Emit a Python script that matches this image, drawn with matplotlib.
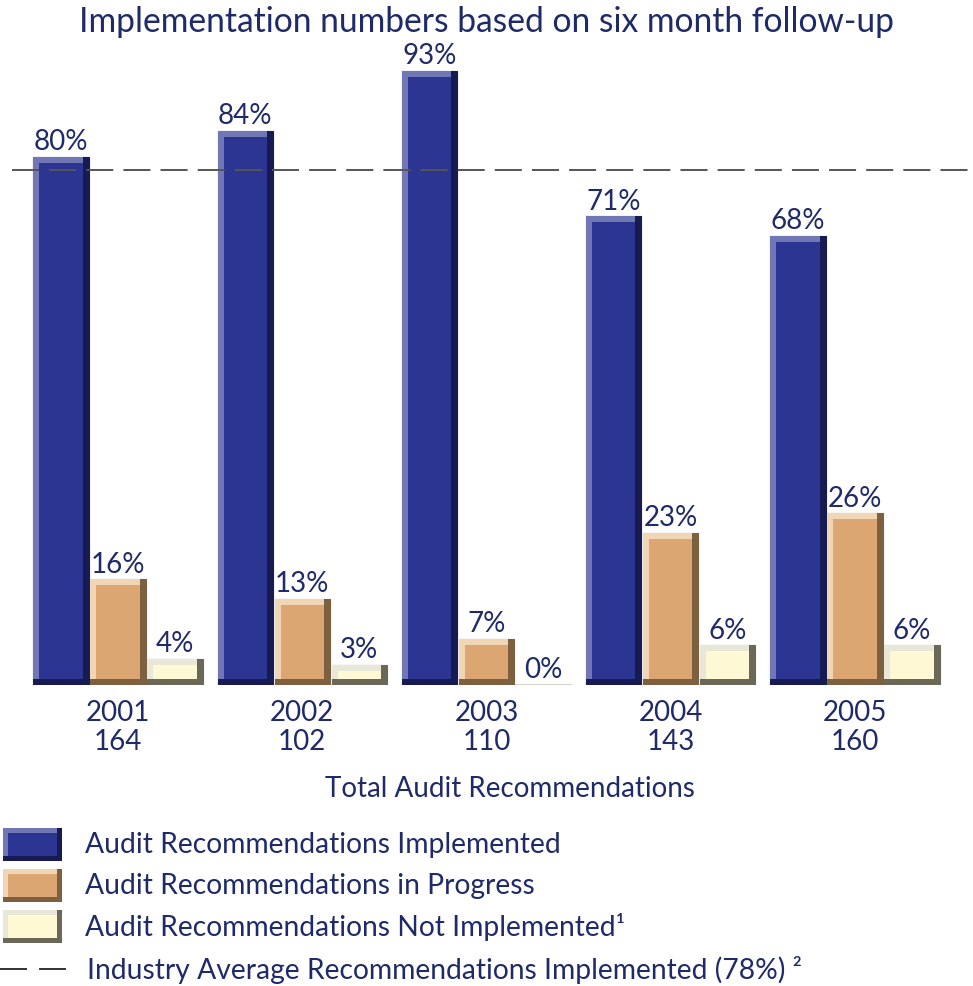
import matplotlib
matplotlib.use("Agg")
import matplotlib.pyplot as plt
from matplotlib.patches import Rectangle
from matplotlib.lines import Line2D
import numpy as np

plt.rcParams['font.family'] = ['Lato', 'DejaVu Sans']

years = ["2001", "2002", "2003", "2004", "2005"]
totals = [164, 102, 110, 143, 160]
implemented = [80, 84, 93, 71, 68]
in_progress = [16, 13, 7, 23, 26]
not_implemented = [4, 3, 0, 6, 6]
industry_avg = 78

series_names = [
    "Audit Recommendations Implemented",
    "Audit Recommendations in Progress",
    "Audit Recommendations Not Implemented\u00b9",
]
avg_name = "Industry Average Recommendations Implemented (78%)"

TEXT = "#1f2a68"
# (face, highlight, shadow)
palette = [
    ("#2c3592", "#7177b4", "#161b52"),
    ("#dba672", "#f1d6b6", "#7d6040"),
    ("#fff8d4", "#e9e7d8", "#6b6858"),
]

W, H, DPI = 973, 987, 100
fig = plt.figure(figsize=(W / DPI, H / DPI), dpi=DPI)
base_px, top_px = 686, 26
ax = fig.add_axes([0, (H - base_px) / H, 1, (base_px - top_px) / H])
ax.set_xlim(-0.6404, 4.6404)
ax.set_ylim(0, 100)
for s in ax.spines.values():
    s.set_visible(False)
ax.set_yticks([])

x = np.arange(len(years))
step = 0.309
width = 0.300
dx = 6 / 184.25   # bevel thickness in x units
dy = 6 / 6.6      # bevel thickness in % units


def bevel_bars(xs, vals, colors):
    face, hi, sh = colors
    vals = np.asarray(vals, dtype=float)
    ax.bar(xs, vals, width, color=sh, edgecolor=sh, linewidth=0.8, zorder=2)
    ax.bar(xs - dx / 2, np.clip(vals - dy, 0, None), width - dx, bottom=dy,
           color=hi, linewidth=0, zorder=3)
    ax.bar(xs, np.clip(vals - 2 * dy, 0, None), width - 2 * dx, bottom=dy,
           color=face, linewidth=0, zorder=4)


groups = [implemented, in_progress, not_implemented]
for k, (vals, cols) in enumerate(zip(groups, palette)):
    xs = x + (k - 1) * step
    bevel_bars(xs, vals, cols)
    for xi, v in zip(xs, vals):
        if v == 0:
            ax.plot([xi - width / 2, xi + width / 2], [0, 0], color="#d8d6c8",
                    lw=1.5, zorder=2)
        ax.annotate(f"{v}%", (xi, v), xytext=(0, 2), textcoords="offset points",
                    ha="center", va="bottom", fontsize=20, color=TEXT)

ax.axhline(industry_avg, xmin=12 / W, xmax=1, color="#555555", lw=1.4,
           dashes=(13.9, 5.2), zorder=5)

ax.set_xticks(x)
ax.set_xticklabels([f"{y}\n{t}" for y, t in zip(years, totals)],
                   fontsize=20, color=TEXT, linespacing=1.15)
ax.tick_params(axis="x", length=0, pad=10)

fig.text(0.5, 1 - 22 / H, "Implementation numbers based on six month follow-up",
         ha="center", va="center", fontsize=24.2, color=TEXT)
fig.text(510 / W, 1 - 789 / H, "Total Audit Recommendations",
         ha="center", va="center", fontsize=20, color=TEXT)

# legend drawn in figure pixels
def fx(px):
    return px / W


def fy(py):
    return 1 - py / H


rows = [(829, 862), (870, 903), (911, 944)]
for (y0, y1), cols, name in zip(rows, palette, series_names):
    face, hi, sh = cols
    x0, x1 = 3, 62
    t = 5
    fig.add_artist(Rectangle((fx(x0), fy(y1)), fx(x1 - x0), (y1 - y0) / H,
                             transform=fig.transFigure, facecolor=sh, edgecolor="none"))
    fig.add_artist(Rectangle((fx(x0), fy(y1 - t)), fx(x1 - x0 - t), (y1 - y0 - t) / H,
                             transform=fig.transFigure, facecolor=hi, edgecolor="none"))
    fig.add_artist(Rectangle((fx(x0 + t), fy(y1 - t)), fx(x1 - x0 - 2 * t),
                             (y1 - y0 - 2 * t) / H,
                             transform=fig.transFigure, facecolor=face, edgecolor="none"))
    fig.text(fx(85), fy((y0 + y1) / 2), name, ha="left", va="center",
             fontsize=20.3, color=TEXT)

fig.add_artist(Line2D([fx(0), fx(66)], [fy(970), fy(970)], transform=fig.transFigure,
                      color="#333333", lw=1.4, dashes=(13.9, 6.2)))
fig.text(fx(87), fy(970), avg_name + " \u00b2", ha="left", va="center",
         fontsize=20.3, color=TEXT)

fig.savefig("out.png", dpi=DPI)
